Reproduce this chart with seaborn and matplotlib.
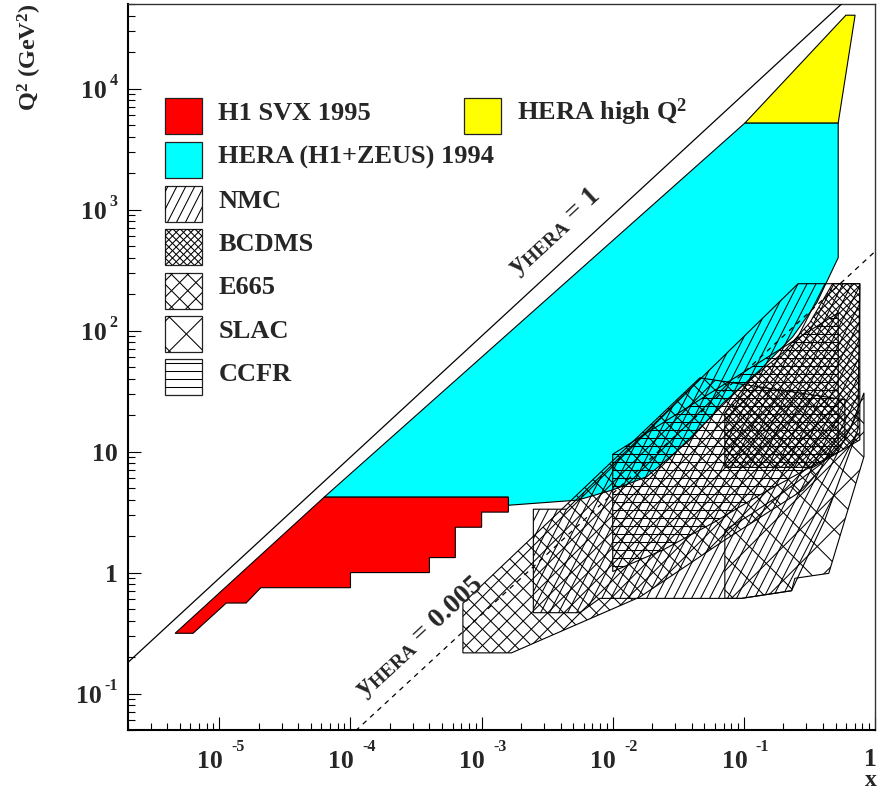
import numpy as np
import pandas as pd
import matplotlib
matplotlib.use("Agg")
import matplotlib.pyplot as plt
import seaborn as sns
from matplotlib.patches import Polygon, Rectangle
from matplotlib.collections import LineCollection
from matplotlib.transforms import IdentityTransform
from matplotlib.ticker import LogLocator

sns.set_theme(style="white")
plt.rcParams['font.family'] = ['Liberation Serif', 'DejaVu Serif']
plt.rcParams['font.weight'] = 'bold'
plt.rcParams['mathtext.fontset'] = 'custom'
plt.rcParams['mathtext.rm'] = 'Liberation Serif:bold'
plt.rcParams['mathtext.bf'] = 'Liberation Serif:bold'
plt.rcParams['mathtext.it'] = 'Liberation Serif:bold'
plt.rcParams['mathtext.default'] = 'bf'

# ---------------- kinematic limits ----------------
S_HERA = 9.0e4                 # GeV^2
y_limits = ['1', '0.005']
x_line = [2e-6, 1.0]

# ---------------- measured regions (x, Q^2 in GeV^2) ----------------
h1svx_x = [4.6e-6, 6.3e-6, 1.13e-5, 1.6e-5, 2.07e-5, 1.0e-4, 1.0e-4, 4.0e-4,
           4.0e-4, 6.3e-4, 6.3e-4, 1.0e-3, 1.0e-3, 1.6e-3, 1.6e-3, 6.3e-5]
h1svx_q2 = [0.315, 0.315, 0.56, 0.56, 0.75, 0.75, 1.0, 1.0,
            1.33, 1.33, 2.37, 2.37, 3.16, 3.16, 4.2, 4.2]

hera94_x = [6.3e-5, 1.6e-3, 1.6e-3, 5.4e-3, 0.01, 0.0182, 0.0388, 0.069,
            0.132, 0.236, 0.36, 0.524, 0.524, 0.102]
hera94_q2 = [4.2, 4.2, 3.6, 3.97, 4.82, 6.2, 12.5, 25,
             47, 89, 170, 400, 5200, 5200]

herahi_x = [0.102, 0.524, 0.705, 0.60]
herahi_q2 = [5200, 5200, 40400, 40400]

nmc_x = [2.48e-3, 2.48e-3, 5.62e-3, 7.98e-3, 0.096, 0.231, 0.414, 0.74,
         0.766, 0.259, 4.45e-3]
nmc_q2 = [3.34, 0.466, 0.466, 0.612, 0.612, 0.708, 2.72, 15.1,
          244, 244, 3.34]

bcdms_x = [0.0716, 0.336, 0.766, 0.766, 0.475, 0.318, 0.198, 0.111, 0.0716]
bcdms_q2 = [7.4, 7.4, 12.5, 244, 244, 116, 65.5, 39.2, 20.9]

e665_x = [7.2e-4, 1.69e-3, 0.0161, 0.0716, 0.283, 0.589, 0.589, 0.0462, 7.2e-4]
e665_q2 = [0.217, 0.217, 0.628, 1.86, 4.82, 12.5, 26.8, 40.7, 0.557]

slac_x = [0.0716, 0.096, 0.231, 0.245, 0.444, 0.824, 0.824, 0.641,
          0.379, 0.188, 0.111, 0.0716]
slac_q2 = [0.612, 0.612, 0.708, 0.897, 0.986, 9.1, 30.6, 15.1,
           7.76, 4.38, 2.99, 2.25]

ccfr_x = [0.01, 0.524, 0.524, 0.132, 0.058, 0.0242, 0.01]
ccfr_q2 = [9.5, 140, 9.95, 4.38, 2.57, 1.54, 1.02]

xtick_vals = [1e-5, 1e-4, 1e-3, 1e-2, 1e-1, 1]
xtick_labels = ['10^-5', '10^-4', '10^-3', '10^-2', '10^-1', '1']
ytick_vals = [1e-1, 1, 10, 1e2, 1e3, 1e4]
ytick_labels = ['10^-1', '1', '10', '10^2', '10^3', '10^4']

legend_left = ['H1 SVX 1995', 'HERA (H1+ZEUS) 1994', 'NMC', 'BCDMS',
               'E665', 'SLAC', 'CCFR']
legend_right = 'HERA high Q$^2$'

# ---------------- figure / axes geometry (pixels) ----------------
W, H = 882, 791
L, R, T, B = 127.7, 875.0, 4.0, 730.0
PT = 0.72  # points per pixel at 100 dpi

fig = plt.figure(figsize=(W / 100, H / 100), dpi=100)
ax = fig.add_axes([L / W, 1 - B / H, (R - L) / W, (B - T) / H])
ax.set_xscale('log')
ax.set_yscale('log')
ax.set_xlim(2e-6, 1.0)
ax.set_ylim(0.05, 5e4)


def afr(px, py):
    """pixel position (from top-left of the image) -> axes fraction"""
    return ((px - L) / (R - L), (B - py) / (B - T))


def hatch(patch, angles, spacing, lw=0.75):
    """draw parallel hatch lines (display space) clipped to a patch"""
    path = patch.get_path().transformed(patch.get_transform())
    (x0, y0), (x1, y1) = path.get_extents().get_points()
    cx, cy = (x0 + x1) / 2, (y0 + y1) / 2
    r = np.hypot(x1 - x0, y1 - y0) / 2 + spacing
    segs = []
    for ang in angles:
        a = np.deg2rad(ang)
        d = np.array([np.cos(a), np.sin(a)])
        n = np.array([-np.sin(a), np.cos(a)])
        for o in np.arange(-r, r + spacing, spacing):
            c = np.array([cx, cy]) + o * n
            segs.append([tuple(c - r * d), tuple(c + r * d)])
    lc = LineCollection(segs, colors='black', linewidths=lw,
                        transform=IdentityTransform(),
                        zorder=patch.get_zorder() + 0.05)
    ax.add_collection(lc, autolim=False)
    lc.set_clip_path(patch)


# ---------------- kinematic limit lines ----------------
line_df = pd.DataFrame({
    'x': x_line * len(y_limits),
    'Q2': [S_HERA * x * float(y) for y in y_limits for x in x_line],
    'y': [y for y in y_limits for _ in x_line],
})
sns.lineplot(data=line_df, x='x', y='Q2', style='y',
             dashes={'1': '', '0.005': (4, 4)}, color='black',
             linewidth=0.9, legend=False, sort=False, ax=ax, zorder=5)

# ---------------- filled HERA regions ----------------
def region(xs, qs, face, z):
    p = Polygon(np.column_stack([xs, qs]), closed=True, facecolor=face,
                edgecolor='black', linewidth=0.8, zorder=z)
    ax.add_patch(p)
    return p


region(hera94_x, hera94_q2, '#00ffff', 1)
region(herahi_x, herahi_q2, '#ffff00', 1)
region(h1svx_x, h1svx_q2, '#ff0000', 1.2)

# ---------------- hatched fixed-target regions ----------------
styles = {
    'E665': ((45, 135), 11.5),
    'NMC': ((63,), 8.0),
    'SLAC': ((45, 135), 24.0),
    'CCFR': ((0,), 8.0),
    'BCDMS': ((45, 135), 5.2),
}
fixed = [('E665', e665_x, e665_q2), ('NMC', nmc_x, nmc_q2),
         ('SLAC', slac_x, slac_q2), ('CCFR', ccfr_x, ccfr_q2),
         ('BCDMS', bcdms_x, bcdms_q2)]
for i, (name, xs, qs) in enumerate(fixed):
    p = region(xs, qs, 'none', 2 + 0.2 * i)
    hatch(p, *styles[name])

# ---------------- axes styling ----------------
for side in ['bottom', 'left']:
    ax.spines[side].set_linewidth(1.5)
    ax.spines[side].set_color('black')
for side in ['top', 'right']:
    ax.spines[side].set_linewidth(1.0)
    ax.spines[side].set_color('#333333')

ax.xaxis.set_major_locator(LogLocator(base=10, numticks=20))
ax.xaxis.set_minor_locator(LogLocator(base=10, subs=np.arange(2, 10), numticks=20))
ax.yaxis.set_major_locator(LogLocator(base=10, numticks=20))
ax.yaxis.set_minor_locator(LogLocator(base=10, subs=np.arange(2, 10), numticks=20))
ax.tick_params(which='both', direction='in', bottom=True, left=True,
               top=False, right=False, labelbottom=False, labelleft=False,
               color='black', width=0.8)
ax.tick_params(which='major', length=13 * PT)
ax.tick_params(which='minor', length=7 * PT)
ax.set_xlabel('')
ax.set_ylabel('')

BASE_FS, EXP_FS = 18.5, 11.5
for v, lab in zip(xtick_vals, xtick_labels):
    if '^' in lab:
        base, ex = lab.split('^')
        ax.annotate(base, xy=(v, 0), xycoords=('data', 'axes fraction'),
                    xytext=(3.5 * PT, -38.3 * PT), textcoords='offset points',
                    ha='right', va='baseline', fontsize=BASE_FS, fontweight='bold')
        ax.annotate(ex, xy=(v, 0), xycoords=('data', 'axes fraction'),
                    xytext=(12 * PT, -20.7 * PT), textcoords='offset points',
                    ha='left', va='baseline', fontsize=EXP_FS, fontweight='bold')
    else:
        ax.annotate(lab, xy=(v, 0), xycoords=('data', 'axes fraction'),
                    xytext=(-5 * PT, -36.5 * PT), textcoords='offset points',
                    ha='center', va='baseline', fontsize=BASE_FS, fontweight='bold')

fig.canvas.draw()
renderer = fig.canvas.get_renderer()
for v, lab in zip(ytick_vals, ytick_labels):
    if '^' in lab:
        base, ex = lab.split('^')
        t = ax.annotate(ex, xy=(0, v), xycoords=('axes fraction', 'data'),
                        xytext=(-10 * PT, 4 * PT), textcoords='offset points',
                        ha='right', va='baseline', fontsize=EXP_FS, fontweight='bold')
        w = t.get_window_extent(renderer).width
        ax.annotate(base, xy=(0, v), xycoords=('axes fraction', 'data'),
                    xytext=(-(10 + w + 2.7) * PT, -9 * PT), textcoords='offset points',
                    ha='right', va='baseline', fontsize=BASE_FS, fontweight='bold')
    else:
        ax.annotate(lab, xy=(0, v), xycoords=('axes fraction', 'data'),
                    xytext=(-10 * PT, -9 * PT), textcoords='offset points',
                    ha='right', va='baseline', fontsize=BASE_FS, fontweight='bold')

# axis titles
fig.text(871 / W, 1 - 785.5 / H, 'x', ha='center', va='baseline',
         fontsize=17, fontweight='bold')
fig.text(30 / W, 1 - 3 / H, 'Q$^2$ (GeV$^2$)', rotation=90, ha='center',
         va='top', fontsize=17.5, fontweight='bold')

# ---------------- line annotations ----------------
ang = np.degrees(np.arctan2(120.9, 131.2))
ax.text(*afr(555, 232), r'$y_{HERA}$ = 1', transform=ax.transAxes,
        rotation=ang, ha='center', va='center', fontsize=20, fontweight='bold')
ax.text(*afr(420, 637), r'$y_{HERA}$ = 0.005', transform=ax.transAxes,
        rotation=ang, ha='center', va='center', fontsize=20, fontweight='bold')

# ---------------- legend ----------------
BOX_W, BOX_H = 37.3, 36.0
row_tops = [98.3, 142.3, 186.0, 229.0, 272.7, 316.0, 359.3]
faces = ['#ff0000', '#00ffff'] + ['none'] * 5
for lab, top, face in zip(legend_left, row_tops, faces):
    x0, y0 = afr(165, top + BOX_H)
    rect = Rectangle((x0, y0), BOX_W / (R - L), BOX_H / (B - T),
                     transform=ax.transAxes, facecolor=face,
                     edgecolor='#222222', linewidth=0.9, zorder=6)
    ax.add_patch(rect)
    if lab in styles:
        hatch(rect, *styles[lab])
    ax.text(*afr(218.3, top + 21.7), lab, transform=ax.transAxes,
            ha='left', va='baseline', fontsize=19, fontweight='bold', zorder=7)

x0, y0 = afr(464, 98.3 + BOX_H)
ax.add_patch(Rectangle((x0, y0), BOX_W / (R - L), BOX_H / (B - T),
                       transform=ax.transAxes, facecolor='#ffff00',
                       edgecolor='#222222', linewidth=0.9, zorder=6))
ax.text(*afr(517, 98.3 + 21.7), legend_right, transform=ax.transAxes,
        ha='left', va='baseline', fontsize=19, fontweight='bold', zorder=7)

fig.savefig('out.png', dpi=100)
